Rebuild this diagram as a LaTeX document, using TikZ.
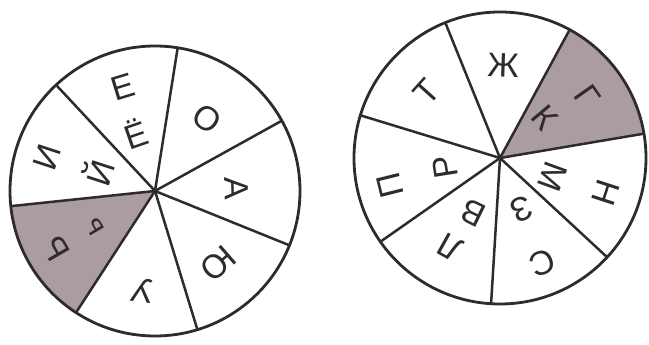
\documentclass[tikz,border=0pt]{standalone}
\usepackage{fontspec}
\setmainfont{Liberation Sans}
\definecolor{ink}{HTML}{2E2B2C}
\definecolor{mauve}{HTML}{AB9CA4}
\tikzset{
  wheel/.style={circle, draw=ink, line width=2.8pt, minimum size=290pt, inner sep=0pt},
  spoke/.style={draw=ink, line width=2.5pt},
  shadesec/.style={fill=mauve},
  lt/.style={inner sep=0pt, text=ink, font=\fontsize{34}{34}\selectfont},
  lts/.style={lt, font=\fontsize{30}{30}\selectfont}
}
\begin{document}
\begin{tikzpicture}[x=1pt,y=1pt]
\useasboundingbox (0,0) rectangle (649,345);
% ---------- left wheel ----------
\coordinate (Lc) at (155,154);
\fill[shadesec] (Lc) -- ([shift={(186:145pt)}]Lc) arc[start angle=186, end angle=237, radius=145pt] -- cycle;
\foreach \a in {81,29,-22,-73,237,186,133}
  \draw[spoke] (Lc) -- ([shift={(\a:145pt)}]Lc);
\node[wheel] (L) at (Lc) {};
\node[lt, rotate=17]   (le1) at ([shift={(107:109pt)}]Lc) {Е};
\node[lt, rotate=19]   (le2) at ([shift={(109:61pt)}]Lc) {Ё};
\node[lt, rotate=-36]  (lo)  at ([shift={(54:89pt)}]Lc) {О};
\node[lt, rotate=-88]  (la)  at ([shift={(2:82pt)}]Lc) {А};
\node[lt, rotate=-139] (lyu) at ([shift={(-49:96pt)}]Lc) {Ю};
\node[lt, rotate=173]  (lu)  at ([shift={(-97:100pt)}]Lc) {У};
\node[lt, rotate=120]  (lb1) at ([shift={(210:115pt)}]Lc) {Ь};
\node[lts, rotate=121] (lb2) at ([shift={(211:70pt)}]Lc) {ь};
\node[lt, rotate=72]   (li1) at ([shift={(162.5:113pt)}]Lc) {И};
\node[lt, rotate=72]   (li2) at ([shift={(161.6:60pt)}]Lc) {Й};
% ---------- right wheel ----------
\coordinate (Rc) at (500,187);
\fill[shadesec] (Rc) -- ([shift={(9.6:146pt)}]Rc) arc[start angle=9.6, end angle=61.5, radius=146pt] -- cycle;
\foreach \a in {112,61.5,9.6,-42.8,-93.5,215,163}
  \draw[spoke] (Rc) -- ([shift={(\a:146pt)}]Rc);
\node[wheel, minimum size=292pt] (R) at (Rc) {};
\node[lt, rotate=-2]   (rzh) at ([shift={(88:93pt)}]Rc) {Ж};
\node[lt, rotate=-55]  (rg)  at ([shift={(35:107pt)}]Rc) {Г};
\node[lt, rotate=-50]  (rk)  at ([shift={(42:60pt)}]Rc) {К};
\node[lt, rotate=-108] (rn)  at ([shift={(-18:111pt)}]Rc) {Н};
\node[lt, rotate=-110] (rm)  at ([shift={(-20:56pt)}]Rc) {М};
\node[lt, rotate=-158] (rs)  at ([shift={(-68:113pt)}]Rc) {С};
\node[lt, rotate=-157] (rz)  at ([shift={(-67:56pt)}]Rc) {З};
\node[lt, rotate=151]  (rl)  at ([shift={(240.7:102pt)}]Rc) {Л};
\node[lt, rotate=154]  (rv)  at ([shift={(244:61pt)}]Rc) {В};
\node[lt, rotate=104]  (rp)  at ([shift={(194:113pt)}]Rc) {П};
\node[lt, rotate=99]   (rr)  at ([shift={(189:56pt)}]Rc) {Р};
\node[lt, rotate=48]   (rt)  at ([shift={(138:98pt)}]Rc) {Т};
\end{tikzpicture}
\end{document}
